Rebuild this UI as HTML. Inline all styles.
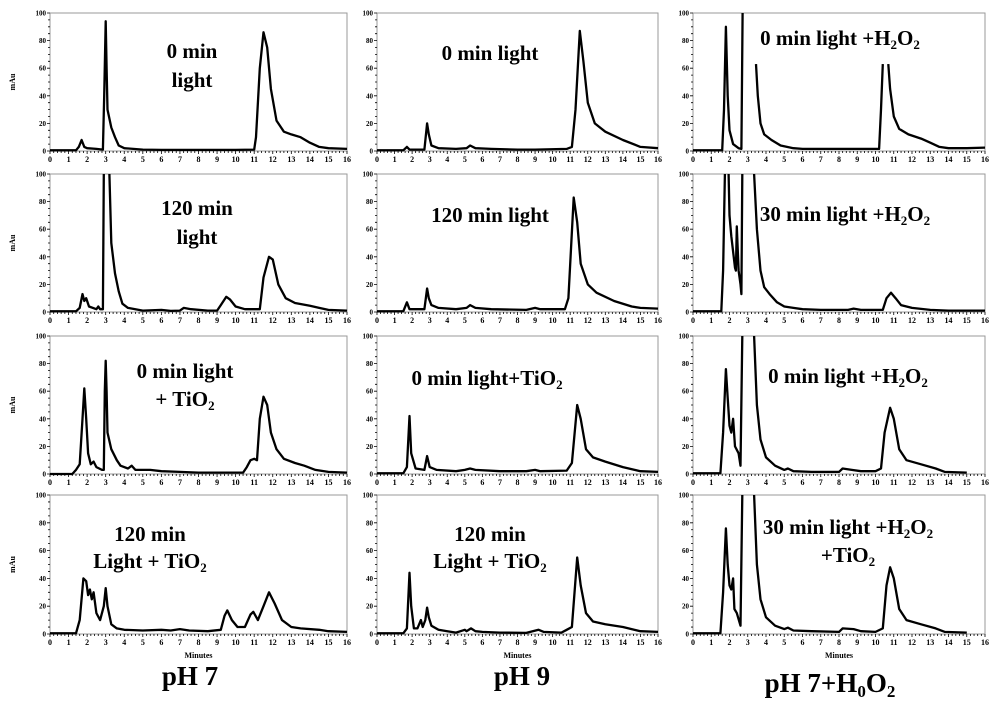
<!DOCTYPE html>
<html><head><meta charset="utf-8"><style>
body{margin:0;background:#fff;}
svg{display:block;font-family:"Liberation Serif",serif;}
</style></head><body>
<svg id="c" width="1000" height="725" viewBox="0 0 1000 725" xmlns="http://www.w3.org/2000/svg"></svg>
<script>
const xTicks=[0,1,2,3,4,5,6,7,8,9,10,11,12,13,14,15,16];
const yTicks=[0,20,40,60,80,100];
const p1=[[0,0.5],[1.4,0.5],[1.55,3],[1.7,8],[1.85,3],[2.0,2],[2.5,1.5],[2.85,1],[2.92,40],[3.0,94],[3.05,60],[3.1,30],[3.3,17],[3.5,10],[3.7,4],[4,2],[5,1],[6,0.8],[10,0.8],[11,1],[11.1,10],[11.3,60],[11.5,86],[11.7,75],[11.9,45],[12.2,22],[12.6,14],[13,12],[13.5,10],[14,6],[14.5,3],[15,2],[16,1.5]];
const p2=[[0,0.5],[1.4,0.5],[1.6,3],[1.75,13],[1.85,8],[1.95,10],[2.1,4],[2.5,2],[2.6,4],[2.7,2],[2.85,2],[2.9,100],null,[3.2,100],[3.3,50],[3.5,28],[3.7,15],[3.9,6],[4.2,3],[5,1],[6,1.5],[6.5,0.8],[7,1],[7.2,3],[7.6,2],[8.5,1],[9,1],[9.2,5],[9.5,11],[9.7,9],[10,4],[10.5,2],[11.3,2],[11.5,25],[11.8,40],[12,38],[12.3,20],[12.7,10],[13.2,6.5],[14,4.5],[14.5,3],[15,1.5],[16,1]];
const p3=[[0,0],[1.2,0],[1.4,3],[1.6,7],[1.75,40],[1.85,62],[1.95,40],[2.05,15],[2.2,7],[2.35,9],[2.5,5],[2.8,3],[2.9,3],[2.95,60],[3.0,82],[3.05,60],[3.1,30],[3.3,18],[3.6,10],[3.8,6],[4.2,4],[4.4,6],[4.6,3],[5,3],[5.4,3],[6,2],[7,1.5],[8,1],[10.4,1],[10.6,5],[10.8,10],[11,11],[11.15,10],[11.3,40],[11.5,56],[11.7,50],[11.9,30],[12.2,18],[12.6,11],[13.2,8],[13.7,6],[14.3,3],[15,1.5],[16,1]];
const p4=[[0,0.5],[1.4,0.5],[1.6,10],[1.8,40],[1.95,38],[2.05,28],[2.15,32],[2.25,25],[2.35,30],[2.5,15],[2.7,10],[2.9,20],[3.0,33],[3.1,20],[3.3,7],[3.6,4],[4,3],[5,2.5],[6,3],[6.5,2.5],[7,3.5],[7.5,2.5],[8.5,2],[9.2,3],[9.4,13],[9.55,17],[9.8,10],[10.1,5],[10.5,5],[10.8,14],[10.95,16],[11.2,10],[11.5,20],[11.8,30],[12.1,22],[12.5,10],[13,5],[13.5,4],[14.5,3],[15,2],[16,1.5]];
const p5=[[0,0.5],[1.5,0.5],[1.7,3],[1.85,1],[2.7,1],[2.85,20],[2.95,12],[3.1,4],[3.5,2],[4.5,1.5],[5.1,2],[5.3,4],[5.6,2],[6.5,1.5],[8,1],[9,1],[10.8,1.5],[11.1,3],[11.3,30],[11.55,87],[11.75,65],[12,35],[12.4,20],[13,14],[14,8],[15,3],[16,2]];
const p6=[[0,0.5],[1.5,0.5],[1.7,7],[1.85,2],[2.7,2],[2.85,17],[2.95,10],[3.1,5],[3.5,3],[4.5,2],[5.1,3],[5.3,5],[5.6,3],[6.5,2],[8.5,1.5],[9,3],[9.3,2],[10.7,2],[10.9,10],[11.2,83],[11.4,65],[11.6,35],[12,20],[12.5,14],[13.5,8],[14.5,4],[15,3],[16,2.5]];
const p7=[[0,0.5],[1.5,0.5],[1.7,5],[1.85,42],[1.95,15],[2.2,4],[2.7,3],[2.85,13],[3.0,5],[3.4,3],[4.5,2],[5,3],[5.3,4],[5.6,3],[7,2],[8.5,2],[9,3],[9.3,2],[10.8,2.5],[11.1,8],[11.4,50],[11.6,40],[11.9,18],[12.3,12],[13,9],[14,5],[15,2],[16,1.5]];
const p8=[[0,0.5],[1.5,0.5],[1.7,4],[1.85,44],[1.95,20],[2.1,4],[2.3,4],[2.5,10],[2.6,5],[2.75,10],[2.85,19],[2.95,12],[3.1,6],[3.5,3],[4,2],[4.5,1],[5,3],[5.1,2],[5.35,4],[5.6,2],[6,1.5],[7,1],[8.5,0.8],[9.2,3],[9.5,1.5],[10.5,1],[10.8,3],[11.1,5],[11.4,55],[11.6,35],[11.9,15],[12.3,9],[13,7],[14,5],[15,2],[16,1.5]];
const p9=[[0,0.5],[1.6,0.5],[1.7,30],[1.8,90],[1.9,40],[2.0,15],[2.2,5],[2.5,2],[2.65,1.5],[2.72,100],null,[3.45,63],[3.55,40],[3.7,20],[3.9,12],[4.3,8],[4.8,4],[5.5,2],[6,1.5],[10.2,1.5],[10.3,30],[10.4,63],null,[10.7,63],[10.8,45],[11,25],[11.3,16],[11.8,12],[12.5,9],[13,6],[13.5,3],[14,2],[15,2],[16,2.5]];
const p10=[[0,0.5],[1.55,0.5],[1.65,30],[1.75,100],null,[1.95,100],[2.0,70],[2.1,55],[2.3,32],[2.35,30],[2.4,62],[2.5,30],[2.6,20],[2.65,13],[2.7,100],null,[3.35,100],[3.5,60],[3.7,30],[3.9,18],[4.2,13],[4.6,7],[5,4],[5.5,3],[6,2],[7,1.5],[8.5,1.5],[8.8,2.5],[9.2,1.5],[10.4,1.5],[10.6,10],[10.85,14],[11.1,10],[11.4,5],[12,3],[13,1.5],[14,1],[16,1]];
const p11=[[0,0.5],[1.5,0.5],[1.65,30],[1.8,76],[1.9,55],[2.0,35],[2.1,30],[2.2,40],[2.3,20],[2.5,15],[2.6,6],[2.7,100],null,[3.35,100],[3.5,50],[3.7,25],[4,12],[4.5,6],[5,3],[5.2,4],[5.5,2],[6.5,1.5],[8,1.5],[8.2,4],[8.7,3],[9.2,2],[10,2],[10.3,4],[10.5,30],[10.8,48],[11,40],[11.3,18],[11.7,10],[12.5,7],[13.3,4],[13.8,1.5],[15,1]];
const p12=[[0,0.5],[1.5,0.5],[1.65,30],[1.8,76],[1.9,50],[2.0,35],[2.1,32],[2.2,40],[2.27,18],[2.4,15],[2.6,6],[2.7,100],null,[3.35,100],[3.5,50],[3.7,25],[4,12],[4.5,6],[5,3.5],[5.2,4.5],[5.5,2.5],[6.5,2],[8,1.5],[8.2,4],[8.8,3.5],[9.2,2],[10,1.5],[10.4,4],[10.6,35],[10.8,48],[11,40],[11.3,18],[11.7,10],[12.5,7],[13.3,4],[13.8,1.5],[15,1]];
const series=[p1,p2,p3,p4,p5,p6,p7,p8,p9,p10,p11,p12];
const sub="<tspan font-size='13' dy='4'>2</tspan>";
const h2o2="+H"+sub+"<tspan dy='-4'>O</tspan>"+sub;
const titles=[
 [["0 min",58],["light",87]],
 [["120 min",215],["light",244]],
 [["0 min light",378],["+ TiO"+sub,406]],
 [["120 min",541],["Light + TiO"+sub,568]],
 [["0 min light",60]],
 [["120 min light",222]],
 [["0 min light+TiO"+sub,385]],
 [["120 min",541],["Light + TiO"+sub,568]],
 [["0 min light "+h2o2,45]],
 [["30 min light "+h2o2,221]],
 [["0 min light "+h2o2,383]],
 [["30 min light "+h2o2,534],["+TiO"+sub,562]]
];
const titleCx=[192,197,185,150,490,490,487,490,840,845,848,848];
const colX=[50,377,693], colW=[297,281,292];
const rowTop=[13,174,336,495], rowZero=[151,312,474,634];
const svg=document.getElementById('c');
const NS='http://www.w3.org/2000/svg';
function mk(tag,attrs,parent){const e=document.createElementNS(NS,tag);for(const k in attrs)e.setAttribute(k,attrs[k]);(parent||svg).appendChild(e);return e;}
for(let i=0;i<12;i++){
  const col=Math.floor(i/4),row=i%4;
  const x0=colX[col],w=colW[col],y0=rowTop[row],yz=rowZero[row];
  const sx=t=>x0+t/16*w, sy=v=>yz-v/100*(yz-y0);
  const g=mk('g',{});
  
  
  const box=mk('rect',{x:x0,y:y0,width:w,height:yz-y0,fill:'none',stroke:'#999','stroke-width':1},g);
  
  
  let tk='';
  for(let m=0;m<=80;m++){const xx=sx(m/5);tk+=`M${xx},${yz}v${m%5?2:3}`;}
  for(let m=0;m<=20;m++){const yy=sy(m*5);tk+=`M${x0},${yy}h${m%4?-2:-3}`;}
  const tp=mk('path',{d:tk,stroke:'#000','stroke-width':0.8,fill:'none'},g);
  
  
  xTicks.forEach(t=>{const tx=mk('text',{x:sx(t),y:yz+11,'font-size':8,'font-weight':'bold','text-anchor':'middle'},g);tx.textContent=t;
    
    });
  yTicks.forEach(v=>{const tx=mk('text',{x:x0-4,y:sy(v)+2.5,'font-size':7,'font-weight':'bold','text-anchor':'end'},g);tx.textContent=v;
    
    });
  let d='',pen=false;
  series[i].forEach(p=>{if(!p){pen=false;return;}d+=(pen?'L':'M')+sx(p[0]).toFixed(1)+','+sy(p[1]).toFixed(1);pen=true;});
  const ln=mk('path',{d:d,stroke:'#000','stroke-width':2.3,fill:'none','stroke-linejoin':'round'},g);
  
  
  titles[i].forEach(tt=>{const tx=mk('text',{x:titleCx[i],y:tt[1],'font-size':21,'font-weight':'bold','text-anchor':'middle'},g);tx.innerHTML=tt[0];
    
    });
  if(col===0){const yl=mk('text',{x:0,y:0,'font-size':8,'font-weight':'bold','text-anchor':'middle',transform:`translate(15,${(y0+yz)/2}) rotate(-90)`},g);yl.textContent='mAu';
    
    }
  if(row===3){const xl=mk('text',{x:x0+w/2,y:yz+24,'font-size':8,'font-weight':'bold','text-anchor':'middle'},g);xl.textContent='Minutes';
    
    }
}
const labs=[["pH 7",190,685],["pH 9",522,685],["pH 7+H<tspan font-size='17' dy='5'>0</tspan><tspan dy='-5'>O</tspan><tspan font-size='17' dy='5'>2</tspan>",830,692]];
labs.forEach(l=>{const tx=mk('text',{x:l[1],y:l[2],'font-size':27,'font-weight':'bold','text-anchor':'middle'});tx.innerHTML=l[0];
  
  });
</script>
</body></html>
